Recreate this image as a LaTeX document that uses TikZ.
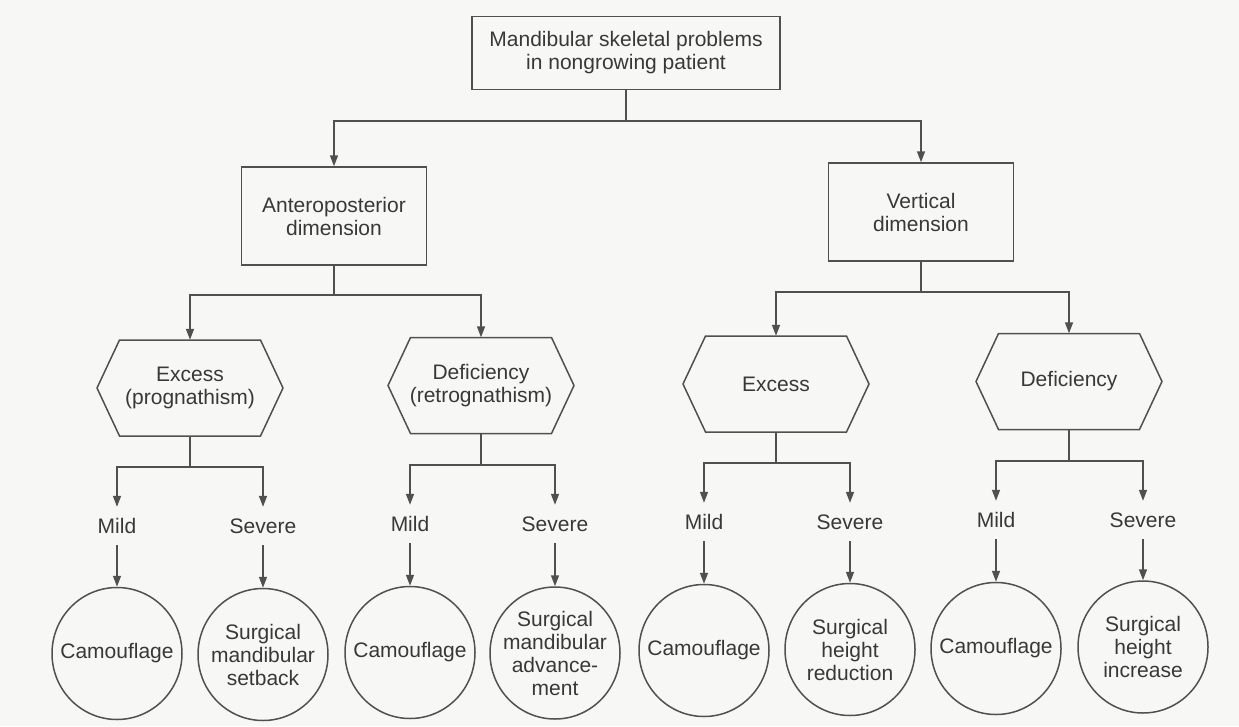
\documentclass[tikz,border=0pt]{standalone}
\usepackage{fontspec}
\setmainfont{Liberation Sans}
\usetikzlibrary{arrows.meta,shapes.geometric}
\definecolor{ink}{HTML}{505050}
\definecolor{txt}{HTML}{383838}
\definecolor{paper}{HTML}{F7F7F5}

\begin{document}
\begin{tikzpicture}[x=1pt,y=-1pt,
  every node/.style={font=\fontsize{21}{23}\selectfont, text=txt},
  conn/.style={draw=ink, line width=1.5pt},
  arr/.style={conn, -{Triangle[length=11pt,width=8pt]}},
  boxnode/.style={draw=ink, line width=1.5pt, rectangle, align=center, inner sep=0pt},
  hexnode/.style={rectangle, align=center, inner sep=0pt, minimum width=141pt, minimum height=96pt},
  grade/.style={inner sep=0pt, minimum height=38pt},
  outcome/.style={draw=ink, line width=1.5pt, ellipse, inner sep=0pt,
                  minimum width=130pt, minimum height=132pt},
  inside/.style={label={[align=center, font=\fontsize{21}{23}\selectfont, text=txt]center:#1}},
]
\fill[paper] (0,0) rectangle (1239,726);
\useasboundingbox (0,0) rectangle (1239,726);

% root and the two dimensions
\node[boxnode, minimum width=308pt, minimum height=73pt] (top) at (626,53)
  {Mandibular skeletal problems\\in nongrowing patient};
\node[boxnode, minimum width=185pt, minimum height=98pt] (ap) at (334,216)
  {Anteroposterior\\dimension};
\node[boxnode, minimum width=185pt, minimum height=98pt] (vd) at (921,212)
  {Vertical\\dimension};

% excess / deficiency hexagons
\node[hexnode] (h1) at (190,388)   {Excess\\(prognathism)};
\node[hexnode] (h2) at (481,385.5) {Deficiency\\(retrognathism)};
\node[hexnode] (h3) at (776,384)   {Excess};
\node[hexnode] (h4) at (1069,381.5) {Deficiency};
\foreach \h in {h1,h2,h3,h4}
  \draw[conn] (\h.center) ++(-70.5,-48) -- ++(141,0) -- ++(22.5,48)
    -- ++(-22.5,48) -- ++(-141,0) -- ++(-22.5,-48) -- cycle;

% severity labels
\node[grade] (m1) at (117,526)  {Mild};
\node[grade] (s1) at (263,526)  {Severe};
\node[grade] (m2) at (410,524)  {Mild};
\node[grade] (s2) at (555,524)  {Severe};
\node[grade] (m3) at (704,522)  {Mild};
\node[grade] (s3) at (850,522)  {Severe};
\node[grade] (m4) at (996,520)  {Mild};
\node[grade] (s4) at (1143,520) {Severe};

% treatment outcomes
\node[outcome, inside={Camouflage}] (c1) at (117,653.5) {};
\node[outcome, inside={Surgical\\mandibular\\setback}] (c2) at (263,654.5) {};
\node[outcome, inside={Camouflage}] (c3) at (410,652.5) {};
\node[outcome, inside={Surgical\\mandibular\\advance-\\ment}] (c4) at (555,653) {};
\node[outcome, inside={Camouflage}] (c5) at (704,650.5) {};
\node[outcome, inside={Surgical\\height\\reduction}] (c6) at (850,649.5) {};
\node[outcome, inside={Camouflage}] (c7) at (996,648.5) {};
\node[outcome, inside={Surgical\\height\\increase}] (c8) at (1143,647) {};

% branch points
\coordinate (j0) at (626,121);
\coordinate (j1) at (334,295);
\coordinate (j2) at (921,292);
\coordinate (k1) at (190,467);
\coordinate (k2) at (481,465);
\coordinate (k3) at (776,463);
\coordinate (k4) at (1069,461);

% connectors
\draw[conn] (top.south) -- (j0);
\draw[arr] (j0) -| (ap.north);
\draw[arr] (j0) -| (vd.north);

\draw[conn] (ap.south) -- (j1);
\draw[arr] (j1) -| (h1.north);
\draw[arr] (j1) -| (h2.north);
\draw[conn] (vd.south) -- (j2);
\draw[arr] (j2) -| (h3.north);
\draw[arr] (j2) -| (h4.north);

\foreach \k/\h/\m/\s in {k1/h1/m1/s1, k2/h2/m2/s2, k3/h3/m3/s3, k4/h4/m4/s4} {
  \draw[conn] (\h.south) -- (\k);
  \draw[arr] (\k) -| (\m.north);
  \draw[arr] (\k) -| (\s.north);
}

\foreach \g/\c in {m1/c1, s1/c2, m2/c3, s2/c4, m3/c5, s3/c6, m4/c7, s4/c8}
  \draw[arr] (\g.south) -- (\c.north);
\end{tikzpicture}
\end{document}
